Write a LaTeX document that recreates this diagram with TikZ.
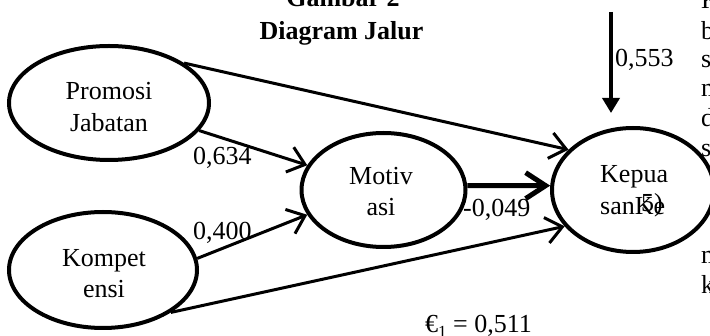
\documentclass[tikz,border=0pt]{standalone}
\usepackage{fontspec}
\setmainfont{Liberation Serif}
\usetikzlibrary{arrows.meta,shapes.geometric}
\begin{document}
\begin{tikzpicture}[x=1pt,y=-1pt,
  ell/.style={ellipse, draw, line width=4pt, fill=white, inner sep=0pt},
  txt/.style={font=\fontsize{26}{30}\selectfont, inner sep=0pt, anchor=base},
  txtw/.style={font=\fontsize{26}{30}\selectfont, inner sep=0pt, anchor=base west},
  ttl/.style={font=\fontsize{26}{30}\selectfont\bfseries, inner sep=0pt, anchor=base},
  conn/.style={line width=3pt, -{Straight Barb[length=16pt,width=26pt]}},
  thickconn/.style={line width=5pt, -{Straight Barb[length=20pt,width=26pt]}},
  errconn/.style={line width=3.5pt, -{Triangle[length=15pt,width=17pt]}},
]
\useasboundingbox (0,0) rectangle (710,336);
\clip (0,0) rectangle (710,336);
% body text fragments at the right edge
\node[txtw] (f1) at (701,9) {K};
\node[txtw] (f2) at (701,40) {b};
\node[txtw] (f3) at (701,68) {s};
\node[txtw] (f4) at (701,97) {m};
\node[txtw] (f5) at (701,127) {d};
\node[txtw] (f6) at (701,157) {s};
\node[txtw] (f7) at (700,207) {P};
\node[txtw] (f8) at (701,264) {m};
\node[txtw] (f9) at (701,294) {k};
% title
\node[ttl] (t1) at (343,7) {Gambar 2};
\node[ttl] (t2) at (341.5,40) {Diagram Jalur};
% ellipses
\node[ell, minimum width=200pt, minimum height=114pt] (prom) at (109,103) {};
\node[ell, minimum width=188pt, minimum height=116pt] (komp) at (103,270) {};
\node[ell, minimum width=164pt, minimum height=114pt] (motiv) at (383.5,190) {};
\node[ell, minimum width=162pt, minimum height=124pt] (kep) at (633,190) {};
% ellipse texts (clipped like text boxes)
\node[txt] (p1) at (109,100) {Promosi};
\begin{scope}
\clip (0,0) rectangle (710,133);
\node[txt] (p2) at (109,132) {Jabatan};
\end{scope}
\node[txt] (k1) at (104,267) {Kompet};
\begin{scope}
\clip (0,0) rectangle (710,298.5);
\node[txt] (k2) at (104,298) {ensi};
\end{scope}
\node[txt] (m1) at (381,185) {Motiv};
\begin{scope}
\clip (0,0) rectangle (710,216.5);
\node[txt] (m2) at (381,216) {asi};
\end{scope}
\begin{scope}
\clip (0,0) rectangle (671,336);
\node[txtw] (q1) at (600,183) {Kepua};
\node[txtw] (q2) at (600,215) {sanKe};
\node[txtw] (q3) at (641,212) {5)};
\end{scope}
% path labels
\node[txtw] (l1) at (193,165) {0,634};
\node[txtw] (l2) at (193,240) {0,400};
\node[txtw] (l3) at (463,217) {-0,049};
\node[txtw] (l4) at (615,67) {0,553};
\node[txtw] (l5) at (425,333) {€{\fontsize{17}{17}\selectfont\raisebox{-5pt}{1}} = 0,511};
% connectors
\draw[conn] (prom.28) -- (kep.148);
\draw[conn] (prom.-17) -- (motiv.162);
\draw[conn] (komp.7) -- (motiv.198);
\draw[conn] (komp.-32) -- (kep.208);
\draw[thickconn] (motiv.3) -- (kep.177);
\coordinate (etop) at (611,12);
\coordinate (ebot) at (611,113);
\draw[errconn] (etop) -- (ebot);
\end{tikzpicture}
\end{document}
